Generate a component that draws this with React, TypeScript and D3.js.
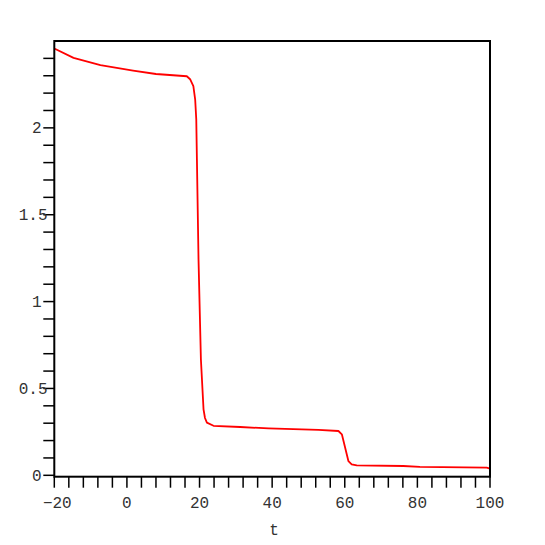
import React from "react";
import * as d3 from "d3";

const tValues = [-20, -14.7, -7.3, 1.7, 8, 16.5, 17.4, 18.3, 18.8, 19.1, 19.28, 19.72, 20.38, 21.1, 21.5, 22.03, 23.85, 31.2, 39, 52.75, 58.25, 59.2, 61, 61.9, 63.3, 76.1, 80.7, 99.1, 100];
const yValues = [2.457, 2.403, 2.361, 2.33, 2.31, 2.297, 2.28, 2.24, 2.163, 2.05, 1.818, 1.243, 0.667, 0.38, 0.33, 0.303, 0.285, 0.278, 0.27, 0.261, 0.255, 0.236, 0.082, 0.063, 0.0575, 0.0535, 0.048, 0.044, 0.0385];
const xTickLabels = [-20, 0, 20, 40, 60, 80, 100];
const yTickLabels = ["0", "0.5", "1", "1.5", "2"];
const xMinorStep = 4;
const yMinorStep = 0.1;
const xLabel = "t";

const W = 545, H = 545;
const left = 54.3, right = 490, top = 41, bottom = 476.7;

export default function App() {
  const x = d3.scaleLinear().domain([-20, 100]).range([left, right]);
  const y = d3.scaleLinear().domain([-0.008, 2.5]).range([bottom, top]);
  const pts: [number, number][] = tValues.map((t, i) => [t, yValues[i]]);
  const line = d3.line<[number, number]>().x(d => x(d[0])).y(d => y(d[1]));

  const xMinor = d3.range(0, 31).map(i => -20 + i * xMinorStep);
  const yMinor = d3.range(0, 25).map(i => +(i * yMinorStep).toFixed(2));
  const font = "'Liberation Mono', 'DejaVu Sans Mono', monospace";

  return (
    <svg width={W} height={H} style={{ position: "absolute", left: 0, top: 0, background: "#fff" }}>
      <rect x={0} y={0} width={W} height={H} fill="#fff" />
      <path d={line(pts) || ""} fill="none" stroke="#ff0000" strokeWidth={1.8} strokeLinejoin="round" />
      {xMinor.map(t => (
        <line key={"xt" + t} x1={x(t)} x2={x(t)} y1={bottom} y2={bottom + 11} stroke="#000" strokeWidth={1.5} />
      ))}
      {yMinor.map(v => (
        <line key={"yt" + v} x1={left - 11} x2={left} y1={y(v)} y2={y(v)} stroke="#000" strokeWidth={1.5} />
      ))}
      <rect x={left} y={top} width={right - left} height={bottom - top} fill="none" stroke="#000" strokeWidth={2} />
      {xTickLabels.map(t => (
        <text key={"xl" + t} x={x(t) + (t < 0 ? 3 : 0)} y={508} fontFamily={font} fontSize={16} fill="#333" textAnchor="middle">
          {t < 0 ? "\u2212" + Math.abs(t) : String(t)}
        </text>
      ))}
      {yTickLabels.map(s => (
        <text key={"yl" + s} x={s.includes(".") ? 47.5 : 41.5} y={y(+s) + 5.5} fontFamily={font} fontSize={16} fill="#333" textAnchor="end">
          {s}
        </text>
      ))}
      <text x={(left + right) / 2 + 2} y={535} fontFamily={font} fontSize={16} fill="#333" textAnchor="middle">{xLabel}</text>
    </svg>
  );
}
